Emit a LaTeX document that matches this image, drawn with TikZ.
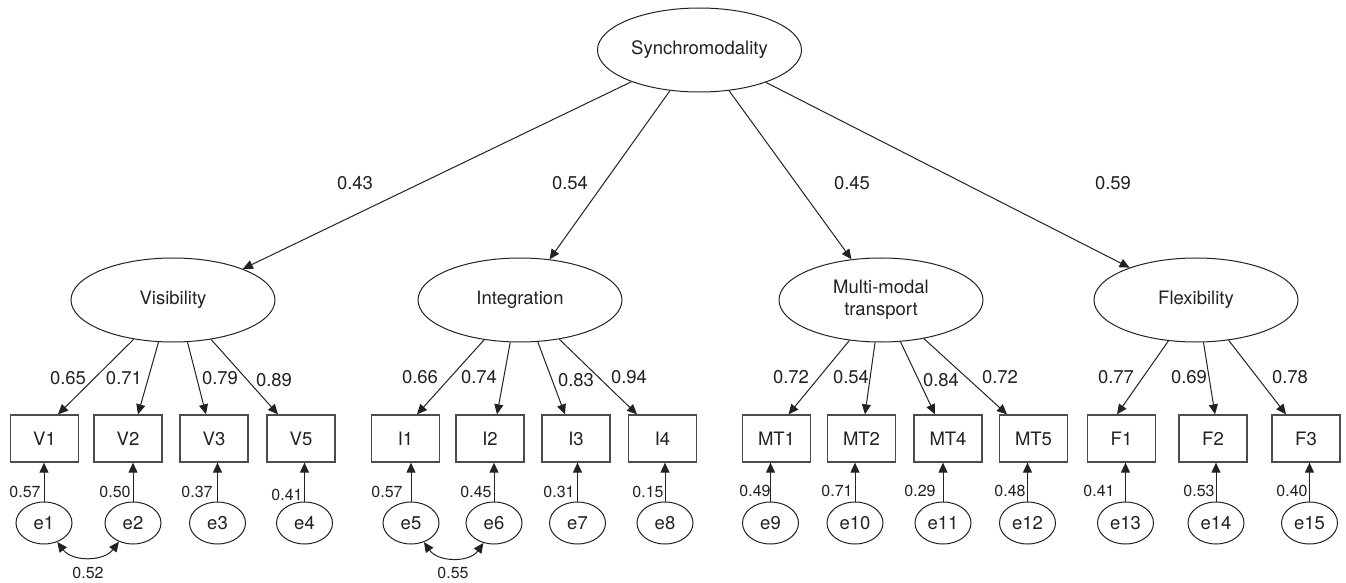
\documentclass[tikz,border=0pt]{standalone}
\usepackage{fontspec}
\setmainfont{TeX Gyre Heros}
\usetikzlibrary{shapes.geometric,arrows.meta}
\definecolor{ink}{HTML}{222222}
\begin{document}
\begin{tikzpicture}[x=0.5pt,y=-0.5pt,
  font=\fontsize{9.25}{11}\selectfont, text=ink,
  lat/.style={ellipse,draw=ink,line width=0.5pt,minimum width=102pt,minimum height=42pt,inner sep=0pt},
  obs/.style={rectangle,draw=black!70,line width=0.65pt,minimum width=34pt,minimum height=23.5pt,inner sep=0pt},
  err/.style={ellipse,draw=ink,line width=0.5pt,minimum width=28pt,minimum height=21pt,inner sep=0pt},
  arr/.style={-{Triangle[length=5pt,width=4.5pt]},draw=ink,line width=0.5pt},
  biarr/.style={{Triangle[length=5pt,width=4.5pt]}-{Triangle[length=5pt,width=4.5pt]},draw=ink,line width=0.5pt},
  lbl/.style={inner sep=0pt},
  slbl/.style={inner sep=0pt,font=\fontsize{8}{9}\selectfont}]
\useasboundingbox (0,0) rectangle (1346,583);
% latent variables
\node[lat] (syn) at (699.5,50) {Synchromodality};
\node[lat] (vis) at (173,300) {Visibility};
\node[lat] (int) at (520,300) {Integration};
\node[lat,align=center] (mmt) at (881,300) {Multi-modal\\transport};
\node[lat] (flex) at (1196,300) {Flexibility};
% observed
\node[obs] (V1) at (44.5,438.5) {V1};
\node[obs] (V2) at (128,438.5) {V2};
\node[obs] (V3) at (214,438.5) {V3};
\node[obs] (V5) at (301,438.5) {V5};
\node[obs] (I1) at (405.5,438.5) {I1};
\node[obs] (I2) at (490,438.5) {I2};
\node[obs] (I3) at (576,438.5) {I3};
\node[obs] (I4) at (662.5,438.5) {I4};
\node[obs] (MT1) at (776.5,438.5) {MT1};
\node[obs] (MT2) at (861.5,438.5) {MT2};
\node[obs] (MT4) at (948,438.5) {MT4};
\node[obs] (MT5) at (1033.5,438.5) {MT5};
\node[obs] (F1) at (1121.5,438.5) {F1};
\node[obs] (F2) at (1213,438.5) {F2};
\node[obs] (F3) at (1306,438.5) {F3};
% errors
\node[err] (e1) at (44,523) {e1};
\node[err] (e2) at (133,523) {e2};
\node[err] (e3) at (217.5,523) {e3};
\node[err] (e4) at (304.5,523) {e4};
\node[err] (e5) at (411,523) {e5};
\node[err] (e6) at (494,523) {e6};
\node[err] (e7) at (577.5,523) {e7};
\node[err] (e8) at (665,523) {e8};
\node[err] (e9) at (770.5,523) {e9};
\node[err] (e10) at (855,523) {e10};
\node[err] (e11) at (943,523) {e11};
\node[err] (e12) at (1027.5,523) {e12};
\node[err] (e13) at (1125.5,523) {e13};
\node[err] (e14) at (1216,523) {e14};
\node[err] (e15) at (1309.5,523) {e15};
% second-order loadings
\draw[arr] (syn.-155.3) -- (vis.24.9);
\draw[arr] (syn.-126.4) -- (int.54.1);
\draw[arr] (syn.-54.5) -- (mmt.126.2);
\draw[arr] (syn.-26.7) -- (flex.154.1);
\node[lbl] (l1) at (355,183) {0.43};
\node[lbl] (l2) at (570,183) {0.54};
\node[lbl] (l3) at (852,183) {0.45};
\node[lbl] (l4) at (1113,183) {0.59};
% first-order loadings
\draw[arr] (vis.-135.7) -- ([shift={(13.5,0)}]V1.north);
\draw[arr] (vis.-109.3) -- ([shift={(10,0)}]V2.north);
\draw[arr] (vis.-71.1) -- ([shift={(-8,0)}]V3.north);
\draw[arr] (vis.-46.5) -- ([shift={(-23,0)}]V5.north);
\draw[arr] (int.-132.8) -- ([shift={(11.5,0)}]I1.north);
\draw[arr] (int.-103.7) -- ([shift={(7,0)}]I2.north);
\draw[arr] (int.-67.5) -- ([shift={(-11,0)}]I3.north);
\draw[arr] (int.-45) -- ([shift={(-25.5,0)}]I4.north);
\draw[arr] (mmt.-128.2) -- ([shift={(12,0)}]MT1.north);
\draw[arr] (mmt.-98.1) -- ([shift={(3.5,0)}]MT2.north);
\draw[arr] (mmt.-65.7) -- ([shift={(-13,0)}]MT4.north);
\draw[arr] (mmt.-42.9) -- ([shift={(-26.5,0)}]MT5.north);
\draw[arr] (flex.-124.6) -- ([shift={(-4.5,0)}]F1.north);
\draw[arr] (flex.-80.5) -- ([shift={(2,0)}]F2.north);
\draw[arr] (flex.-51.3) -- ([shift={(-20,0)}]F3.north);
\node[lbl] (a1) at (68,378) {0.65};
\node[lbl] (a2) at (124,378) {0.71};
\node[lbl] (a3) at (220,378) {0.79};
\node[lbl] (a4) at (274,380) {0.89};
\node[lbl] (a5) at (420,377) {0.66};
\node[lbl] (a6) at (479,377) {0.74};
\node[lbl] (a7) at (576,380) {0.83};
\node[lbl] (a8) at (629,377) {0.94};
\node[lbl] (a9) at (791,377) {0.72};
\node[lbl] (a10) at (851,377) {0.54};
\node[lbl] (a11) at (941,380) {0.84};
\node[lbl] (a12) at (1000,377) {0.72};
\node[lbl] (a13) at (1116,377) {0.77};
\node[lbl] (a14) at (1189,377) {0.69};
\node[lbl] (a15) at (1290,377) {0.78};
% error arrows
\foreach \e/\o in {e1/V1,e2/V2,e3/V3,e4/V5,e5/I1,e6/I2,e7/I3,e8/I4,e9/MT1,e10/MT2,e11/MT4,e12/MT5,e13/F1,e14/F2,e15/F3}
  \draw[arr] (\e.north) -- (\e.north |- \o.south);
\node[slbl] (b1) at (25,492) {0.57};
\node[slbl] (b2) at (115,492) {0.50};
\node[slbl] (b3) at (197,492) {0.37};
\node[slbl] (b4) at (287,495) {0.41};
\node[slbl] (b5) at (387,492) {0.57};
\node[slbl] (b6) at (476,492) {0.45};
\node[slbl] (b7) at (559,492) {0.31};
\node[slbl] (b8) at (648,492) {0.15};
\node[slbl] (b9) at (755,491) {0.49};
\node[slbl] (b10) at (837,491) {0.71};
\node[slbl] (b11) at (920,491) {0.29};
\node[slbl] (b12) at (1010,491) {0.48};
\node[slbl] (b13) at (1099,491) {0.41};
\node[slbl] (b14) at (1199,491) {0.53};
\node[slbl] (b15) at (1292,491) {0.40};
% covariances
\draw[biarr] (e1.-55) .. controls +(15,20) and +(-15,20) .. (e2.-127);
\draw[biarr] (e5.-56) .. controls +(14,20) and +(-14,20) .. (e6.-118);
\node[slbl] (c1) at (88,573) {0.52};
\node[slbl] (c2) at (453,573) {0.55};
\end{tikzpicture}
\end{document}
